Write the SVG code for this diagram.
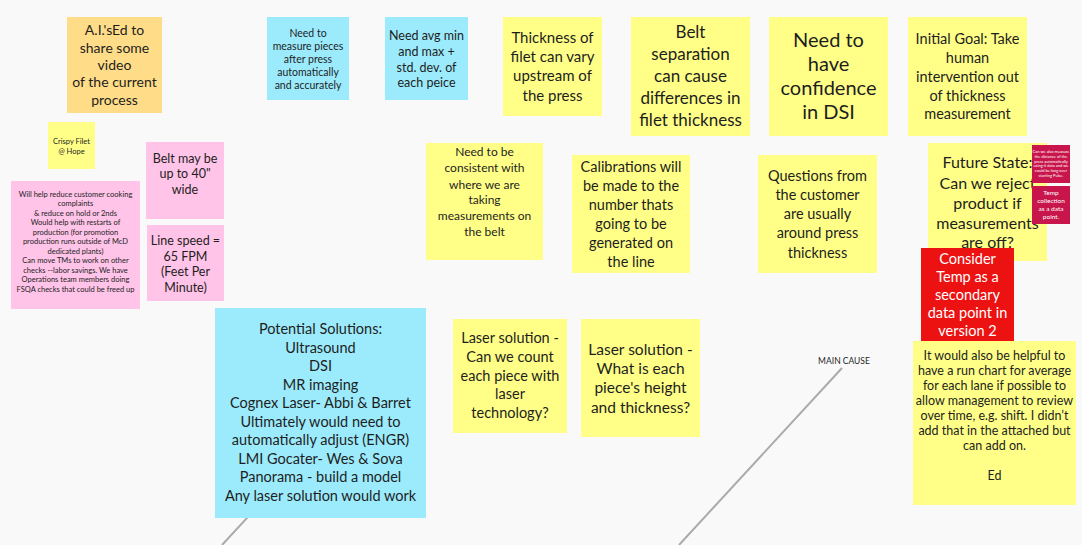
<svg xmlns="http://www.w3.org/2000/svg" width="1082" height="545" viewBox="0 0 1082 545">
<style>
text{font-family:"Lato","Liberation Sans",sans-serif;fill:#1e1e1e;text-anchor:middle}
.y{fill:#FFFF88}
.b{fill:#9CEBFC}
.p{fill:#FFC4E8}
.o{fill:#FFDD88}
.r{fill:#EC1212}
.c{fill:#C8154B}
.w{fill:#ffffff}
.con{stroke:#aaaaaa;stroke-width:2;fill:none}
</style>
<rect x="0" y="0" width="1082" height="545" fill="#F9F9F9"/>
<g id="connectors">
<line class="con" x1="842" y1="368" x2="679" y2="545"/>
<line class="con" x1="259" y1="505" x2="222" y2="545"/>
<text x="844" y="364" font-size="8.5" fill="#333">MAIN CAUSE</text>
</g>
<g id="n-aised"><rect class="o" x="67" y="17" width="95" height="96"/>
<text font-size="14"><tspan x="114.5" y="35">A.I.'sEd to</tspan><tspan x="114.5" y="52.5">share some</tspan><tspan x="114.5" y="69.5">video</tspan><tspan x="114.5" y="87">of the current</tspan><tspan x="114.5" y="105">process</tspan></text></g>
<g id="n-measure"><rect class="b" x="267" y="17" width="82" height="83"/>
<text font-size="10.5"><tspan x="308" y="36.8">Need to</tspan><tspan x="308" y="49.8">measure pieces</tspan><tspan x="308" y="62.8">after press</tspan><tspan x="308" y="75.8">automatically</tspan><tspan x="308" y="88.8">and accurately</tspan></text></g>
<g id="n-avg"><rect class="b" x="385" y="17" width="83" height="83"/>
<text font-size="12.5"><tspan x="426.5" y="39.5">Need avg min</tspan><tspan x="426.5" y="55.5">and max +</tspan><tspan x="426.5" y="71.5">std. dev. of</tspan><tspan x="426.5" y="86.5">each peice</tspan></text></g>
<g id="n-thickness"><rect class="y" x="503" y="17" width="99" height="99"/>
<text font-size="15"><tspan x="552.5" y="43.4">Thickness of</tspan><tspan x="552.5" y="62.4">filet can vary</tspan><tspan x="552.5" y="81.4">upstream of</tspan><tspan x="552.5" y="101.4">the press</tspan></text></g>
<g id="n-belt-separation"><rect class="y" x="631" y="17" width="119" height="119"/>
<text font-size="17"><tspan x="690.5" y="38.1">Belt</tspan><tspan x="690.5" y="60.1">separation</tspan><tspan x="690.5" y="82.1">can cause</tspan><tspan x="690.5" y="104.1">differences in</tspan><tspan x="690.5" y="126.1">filet thickness</tspan></text></g>
<g id="n-confidence"><rect class="y" x="769" y="17" width="119" height="119"/>
<text font-size="20"><tspan x="828.5" y="47.2">Need to</tspan><tspan x="828.5" y="71.2">have</tspan><tspan x="828.5" y="95.2">confidence</tspan><tspan x="828.5" y="119.2">in DSI</tspan></text></g>
<g id="n-initial-goal"><rect class="y" x="908" y="17" width="119" height="119"/>
<text font-size="14.5"><tspan x="967.5" y="44.2">Initial Goal: Take</tspan><tspan x="967.5" y="63.2">human</tspan><tspan x="967.5" y="82.2">intervention out</tspan><tspan x="967.5" y="101.2">of thickness</tspan><tspan x="967.5" y="119.2">measurement</tspan></text></g>
<g id="n-crispy"><rect class="y" x="48" y="122" width="47" height="47"/>
<text font-size="7.5"><tspan x="71.5" y="143.7">Crispy Filet</tspan><tspan x="71.5" y="153.7">@ Hope</tspan></text></g>
<g id="n-benefits"><rect class="p" x="11" y="181" width="129" height="128"/>
<text font-size="7.5"><tspan x="75.5" y="196.7">Will help reduce customer cooking</tspan><tspan x="75.5" y="206.2">complaints</tspan><tspan x="75.5" y="215.7">&amp; reduce on hold or 2nds</tspan><tspan x="75.5" y="225.2">Would help with restarts of</tspan><tspan x="75.5" y="234.7">production (for promotion</tspan><tspan x="75.5" y="244.2">production runs outside of McD</tspan><tspan x="75.5" y="253.7">dedicated plants)</tspan><tspan x="75.5" y="263.2">Can move TMs to work on other</tspan><tspan x="75.5" y="272.7">checks --labor savings. We have</tspan><tspan x="75.5" y="282.2">Operations team members doing</tspan><tspan x="75.5" y="291.7">FSQA checks that could be freed up</tspan></text></g>
<g id="n-belt-width"><rect class="p" x="146" y="142" width="78" height="77"/>
<text font-size="12.5"><tspan x="185" y="162.5">Belt may be</tspan><tspan x="185" y="177.5">up to 40"</tspan><tspan x="185" y="193.5">wide</tspan></text></g>
<g id="n-line-speed"><rect class="p" x="147" y="225" width="77" height="76"/>
<text font-size="12.5"><tspan x="185.5" y="244.5">Line speed =</tspan><tspan x="185.5" y="260.5">65 FPM</tspan><tspan x="185.5" y="275.5">(Feet Per</tspan><tspan x="185.5" y="291.5">Minute)</tspan></text></g>
<g id="n-consistent"><rect class="y" x="426" y="143" width="117" height="117"/>
<text font-size="12"><tspan x="484.5" y="156.3">Need to be</tspan><tspan x="484.5" y="172.3">consistent with</tspan><tspan x="484.5" y="189.3">where we are</tspan><tspan x="484.5" y="204.3">taking</tspan><tspan x="484.5" y="220.3">measurements on</tspan><tspan x="484.5" y="236.3">the belt</tspan></text></g>
<g id="n-calibrations"><rect class="y" x="572" y="155" width="118" height="118"/>
<text font-size="14.5"><tspan x="631" y="172.2">Calibrations will</tspan><tspan x="631" y="191.2">be made to the</tspan><tspan x="631" y="210.2">number thats</tspan><tspan x="631" y="229.2">going to be</tspan><tspan x="631" y="248.2">generated on</tspan><tspan x="631" y="267.2">the line</tspan></text></g>
<g id="n-questions"><rect class="y" x="758" y="155" width="119" height="118"/>
<text font-size="14.5"><tspan x="817.5" y="181.2">Questions from</tspan><tspan x="817.5" y="200.2">the customer</tspan><tspan x="817.5" y="219.2">are usually</tspan><tspan x="817.5" y="238.2">around press</tspan><tspan x="817.5" y="258.2">thickness</tspan></text></g>
<g id="n-future"><rect class="y" x="928" y="143" width="119" height="118"/>
<text font-size="16"><tspan x="987.5" y="167.8">Future State:</tspan><tspan x="987.5" y="188.8">Can we reject</tspan><tspan x="987.5" y="208.8">product if</tspan><tspan x="987.5" y="228.8">measurements</tspan><tspan x="987.5" y="247.8">are off?</tspan></text></g>
<g id="n-distance"><rect class="c" x="1032" y="145" width="38" height="38"/>
<text font-size="4" class="w"><tspan x="1051" y="153">Can we also measure</tspan><tspan x="1051" y="157.8">the distance of the</tspan><tspan x="1051" y="162.6">press automatically</tspan><tspan x="1051" y="167.4">using it data and we</tspan><tspan x="1051" y="172.2">could be long over</tspan><tspan x="1051" y="177">starting Pulse.</tspan></text></g>
<g id="n-temp-collection"><rect class="c" x="1032" y="186" width="38" height="38"/>
<text font-size="6.5" class="w"><tspan x="1051" y="195.3">Temp</tspan><tspan x="1051" y="203.3">collection</tspan><tspan x="1051" y="211.3">as a data</tspan><tspan x="1051" y="219.3">point.</tspan></text></g>
<g id="n-consider-temp"><rect class="r" x="921" y="248" width="93" height="93"/>
<text font-size="14.5" class="w"><tspan x="967.5" y="264.2">Consider</tspan><tspan x="967.5" y="282.2">Temp as a</tspan><tspan x="967.5" y="300.2">secondary</tspan><tspan x="967.5" y="318.2">data point in</tspan><tspan x="967.5" y="336.2">version 2</tspan></text></g>
<g id="n-potential"><rect class="b" x="215" y="308" width="211" height="210"/>
<text font-size="14.5"><tspan x="320.5" y="334.2">Potential Solutions:</tspan><tspan x="320.5" y="352.7">Ultrasound</tspan><tspan x="320.5" y="371.2">DSI</tspan><tspan x="320.5" y="389.7">MR imaging</tspan><tspan x="320.5" y="408.2">Cognex Laser- Abbi &amp; Barret</tspan><tspan x="320.5" y="426.7">Ultimately would need to</tspan><tspan x="320.5" y="445.2">automatically adjust (ENGR)</tspan><tspan x="320.5" y="463.7">LMI Gocater- Wes &amp; Sova</tspan><tspan x="320.5" y="482.2">Panorama - build a model</tspan><tspan x="320.5" y="500.7">Any laser solution would work</tspan></text></g>
<g id="n-laser-count"><rect class="y" x="453" y="319" width="114" height="114"/>
<text font-size="14.5"><tspan x="510" y="343.2">Laser solution -</tspan><tspan x="510" y="362.2">Can we count</tspan><tspan x="510" y="381.2">each piece with</tspan><tspan x="510" y="399.2">laser</tspan><tspan x="510" y="418.2">technology?</tspan></text></g>
<g id="n-laser-height"><rect class="y" x="581" y="319" width="119" height="118"/>
<text font-size="15.5"><tspan x="640.5" y="354.6">Laser solution -</tspan><tspan x="640.5" y="373.6">What is each</tspan><tspan x="640.5" y="392.6">piece's height</tspan><tspan x="640.5" y="412.6">and thickness?</tspan></text></g>
<g id="n-run-chart"><rect class="y" x="913" y="341" width="163" height="164"/>
<text font-size="12.5"><tspan x="994.5" y="359.5">It would also be helpful to</tspan><tspan x="994.5" y="374.5">have a run chart for average</tspan><tspan x="994.5" y="389.5">for each lane if possible to</tspan><tspan x="994.5" y="404.5">allow management to review</tspan><tspan x="994.5" y="419.5">over time, e.g. shift.  I didn’t</tspan><tspan x="994.5" y="434.5">add that in the attached but</tspan><tspan x="994.5" y="449.5">can add on.</tspan><tspan x="994.5" y="479.5">Ed</tspan></text></g>
</svg>
